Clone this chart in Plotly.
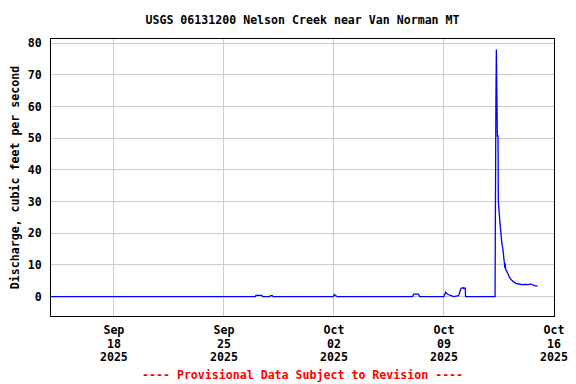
import plotly.graph_objects as go

title_text = "USGS 06131200 Nelson Creek near Van Norman MT"
y_label = "Discharge, cubic feet per second"
footer = "---- Provisional Data Subject to Revision ----"

times = [
    "2025-09-14 00:00",
    "2025-09-27 00:00", "2025-09-27 01:00", "2025-09-27 10:00", "2025-09-27 11:00",
    "2025-09-27 22:00", "2025-09-27 23:00", "2025-09-28 02:00", "2025-09-28 03:00",
    "2025-10-01 23:00", "2025-10-02 00:30", "2025-10-02 03:00", "2025-10-02 05:00",
    "2025-10-07 00:00", "2025-10-07 02:00", "2025-10-07 09:00", "2025-10-07 11:00",
    "2025-10-09 00:00", "2025-10-09 02:30", "2025-10-09 05:30", "2025-10-09 11:30",
    "2025-10-09 14:40", "2025-10-09 22:20", "2025-10-10 00:45", "2025-10-10 02:00",
    "2025-10-10 05:00", "2025-10-10 06:00", "2025-10-10 08:30", "2025-10-10 09:00",
    "2025-10-12 06:00", "2025-10-12 06:15", "2025-10-12 06:45", "2025-10-12 07:15",
    "2025-10-12 08:00", "2025-10-12 08:30", "2025-10-12 09:00", "2025-10-12 09:30",
    "2025-10-12 10:30", "2025-10-12 11:00", "2025-10-12 13:15", "2025-10-12 14:30",
    "2025-10-12 16:15", "2025-10-12 18:00", "2025-10-12 20:00", "2025-10-12 21:00",
    "2025-10-12 21:30", "2025-10-12 22:15", "2025-10-13 00:00", "2025-10-13 01:45",
    "2025-10-13 04:15", "2025-10-13 06:45", "2025-10-13 10:15", "2025-10-13 13:30",
    "2025-10-13 18:00", "2025-10-13 23:00", "2025-10-14 04:00", "2025-10-14 09:00",
    "2025-10-14 12:00", "2025-10-14 15:30", "2025-10-14 19:30", "2025-10-14 23:00",
]
discharge = [
    0.0,
    0.0, 0.4, 0.4, 0.0,
    0.0, 0.3, 0.3, 0.0,
    0.0, 0.7, 0.2, 0.0,
    0.0, 0.8, 0.8, 0.0,
    0.0, 1.4, 0.75, 0.3,
    0.0, 0.3, 1.8, 2.6,
    2.9, 2.6, 2.7, 0.0,
    0.0, 57.0, 40.0, 60.0,
    78.0, 55.0, 74.0, 50.5,
    51.0, 30.0, 24.0, 20.0,
    17.0, 15.0, 11.5, 9.0,
    10.5, 8.5, 8.0, 7.0,
    6.0, 5.3, 4.7, 4.2,
    4.0, 3.8, 3.9, 3.8,
    4.0, 3.6, 3.4, 3.4,
]

x_tick_vals = ["2025-09-18", "2025-09-25", "2025-10-02", "2025-10-09", "2025-10-16"]
x_tick_month = ["Sep", "Sep", "Oct", "Oct", "Oct"]
x_tick_day = ["18", "25", "02", "09", "16"]
x_tick_year = ["2025", "2025", "2025", "2025", "2025"]
y_tick_vals = [0, 10, 20, 30, 40, 50, 60, 70, 80]

X_RANGE = ["2025-09-14 00:00", "2025-10-16 00:00"]
FONT = "DejaVu Sans Mono"
FS = 11.6
TF = dict(family=FONT, size=FS, weight="bold", color="black")

# page body has an 8px margin; figure is sized/offset to compensate
W, H = 568, 376
ML, MR, MT, MB = 43, 22, 31, 68
PH = H - MT - MB

fig = go.Figure()
fig.add_trace(go.Scatter(x=times, y=discharge, mode="lines",
                         line=dict(color="#0000ff", width=1.3),
                         hoverinfo="skip", showlegend=False))
# empty traces so the overlaid label axes (day, year rows) are drawn
for ax in ("x2", "x3"):
    fig.add_trace(go.Scatter(x=[], y=[], xaxis=ax, yaxis="y", mode="lines",
                             hoverinfo="skip", showlegend=False))

def extra_axis(texts, standoff):
    return dict(type="date", overlaying="x", anchor="y", side="bottom",
                range=X_RANGE, tickvals=x_tick_vals, ticktext=texts,
                showgrid=False, showline=False, zeroline=False, ticks="",
                ticklabelstandoff=standoff, automargin=False, tickfont=TF)

fig.update_layout(
    width=W, height=H,
    margin=dict(l=ML, r=MR, t=MT, b=MB, autoexpand=False),
    paper_bgcolor="white", plot_bgcolor="white",
    font=TF,
    title=dict(text=title_text, x=(ML + (W - ML - MR) / 2) / W, xanchor="center",
               y=1 - 12 / H, yanchor="middle", font=TF, automargin=False),
    xaxis=dict(
        type="date", automargin=False,
        range=X_RANGE,
        tickvals=x_tick_vals, ticktext=x_tick_month,
        showgrid=True, gridcolor="#cccccc", gridwidth=1,
        showline=True, linecolor="black", linewidth=1, mirror=True,
        ticks="", ticklabelstandoff=3,
        tickfont=TF, zeroline=False,
    ),
    xaxis2=extra_axis(x_tick_day, 19),
    xaxis3=extra_axis(x_tick_year, 32),
    yaxis=dict(
        range=[-6.1, 81.3], automargin=True,
        tickvals=y_tick_vals,
        showgrid=True, gridcolor="#cccccc", gridwidth=1,
        showline=True, linecolor="black", linewidth=1, mirror=True,
        ticks="", ticklabelstandoff=6,
        tickfont=TF, zeroline=False,
        title=dict(text=y_label, standoff=12, font=TF),
    ),
    annotations=[dict(text=footer, xref="paper", yref="paper",
                      x=0.5, y=-(367 - (MT + PH)) / PH, xanchor="center", yanchor="middle",
                      showarrow=False,
                      font=dict(family=FONT, size=FS, color="#ff0000", weight="bold"))],
)

fig.write_html("out.html")
